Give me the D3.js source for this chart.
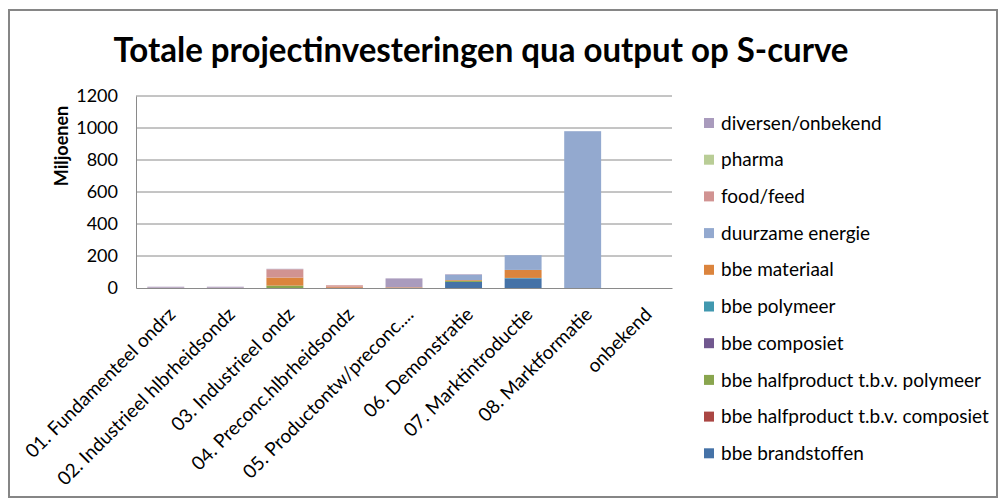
<!DOCTYPE html>
<html>
<head>
<meta charset="utf-8">
<script src="https://cdn.jsdelivr.net/npm/d3@7"></script>
<style>
  body { margin: 0; background: #fff; }
  text { font-family: Lato, "Open Sans", sans-serif; fill: #000; }
</style>
</head>
<body>
<div id="chart"></div>
<script>
var width = 998;
var height = 498;

var categories = [
  "01. Fundamenteel ondrz",
  "02. Industrieel hlbrheidsondz",
  "03. Industrieel ondz",
  "04. Preconc.hlbrheidsondz",
  "05. Productontw/preconc....",
  "06. Demonstratie",
  "07. Marktintroductie",
  "08. Marktformatie",
  "onbekend"
];

// stacking order, bottom to top
var seriesNames = [
  "bbe brandstoffen",
  "bbe halfproduct t.b.v. composiet",
  "bbe halfproduct t.b.v. polymeer",
  "bbe composiet",
  "bbe polymeer",
  "bbe materiaal",
  "duurzame energie",
  "food/feed",
  "pharma",
  "diversen/onbekend"
];

var brandstoffen         = [0, 0, 0, 0, 0, 38, 60, 0, 0];
var halfproductComposiet = [0, 0, 0, 3, 0, 0, 0, 0, 0];
var halfproductPolymeer  = [0, 0, 15, 0, 0, 6, 0, 0, 0];
var composiet            = [0, 0, 0, 0, 0, 0, 0, 0, 0];
var polymeer             = [0, 0, 0, 0, 0, 0, 3, 0, 0];
var materiaal            = [0, 0, 50, 5, 4, 5, 50, 0, 0];
var duurzameEnergie      = [0, 0, 0, 0, 0, 33, 92, 980, 0];
var foodFeed             = [2, 2, 52, 9, 0, 0, 0, 0, 0];
var pharma               = [0, 0, 0, 0, 0, 0, 0, 0, 0];
var diversen             = [6, 6, 3, 0, 56, 4, 0, 0, 0];

var yTicks = [0, 200, 400, 600, 800, 1000, 1200];

var colors = ["#4572a7", "#aa4643", "#89a54e", "#71588f", "#4198af",
              "#db843d", "#93a9cf", "#d19392", "#b9cd96", "#a99bbd"];

var values = [brandstoffen, halfproductComposiet, halfproductPolymeer, composiet,
              polymeer, materiaal, duurzameEnergie, foodFeed, pharma, diversen];

// table for d3.stack
var table = categories.map(function(c, i) {
  var row = { cat: c };
  seriesNames.forEach(function(s, j) { row[s] = values[j][i]; });
  return row;
});

var svg = d3.select("#chart")
  .append("svg")
  .attr("width", width)
  .attr("height", height);

// outer frame
svg.append("rect")
  .attr("x", 9).attr("y", 10)
  .attr("width", 988).attr("height", 487)
  .attr("fill", "#fff")
  .attr("stroke", "#868686")
  .attr("stroke-width", 2);

var plot = { left: 136, right: 672, top: 96, bottom: 288 };

var x = d3.scaleBand()
  .domain(categories)
  .range([plot.left, plot.right])
  .paddingInner(0.38)
  .paddingOuter(0.19);

var y = d3.scaleLinear()
  .domain([0, 1200])
  .range([plot.bottom, plot.top]);

// gridlines
svg.append("g")
  .selectAll("line")
  .data(yTicks.slice(1))
  .enter()
  .append("line")
  .attr("x1", plot.left).attr("x2", plot.right)
  .attr("y1", function(d) { return y(d); })
  .attr("y2", function(d) { return y(d); })
  .attr("stroke", "#8a8a8a")
  .attr("stroke-width", 1);

// y axis
var yAxis = svg.append("g")
  .attr("transform", "translate(" + plot.left + ",0)")
  .call(d3.axisLeft(y).tickValues(yTicks).tickFormat(d3.format("d")).tickSize(0).tickPadding(18));
yAxis.select(".domain").attr("stroke", "#8a8a8a");
yAxis.selectAll("text")
  .style("font-family", "Lato, sans-serif")
  .style("font-size", "18px")
  .attr("fill", "#000");

var stack = d3.stack().keys(seriesNames);
var series = stack(table);

var groups = svg.selectAll("g.series")
  .data(series)
  .enter()
  .append("g")
  .attr("class", "series")
  .style("fill", function(d, i) { return colors[i]; });

groups.selectAll("rect")
  .data(function(d) { return d; })
  .enter()
  .append("rect")
  .attr("x", function(d) { return x(d.data.cat); })
  .attr("y", function(d) { return y(d[1]); })
  .attr("height", function(d) { return y(d[0]) - y(d[1]); })
  .attr("width", x.bandwidth());

// x axis
var xAxis = svg.append("g")
  .attr("transform", "translate(0," + plot.bottom + ")")
  .call(d3.axisBottom(x).tickSize(0).tickFormat(""));
xAxis.select(".domain").attr("stroke", "#8a8a8a");

svg.append("g")
  .selectAll("text")
  .data(categories)
  .enter()
  .append("text")
  .attr("transform", function(d) {
    return "translate(" + (x(d) + x.bandwidth() / 2 + 6) + "," + (plot.bottom + 23) + ") rotate(-45)";
  })
  .attr("text-anchor", "end")
  .attr("dy", "0.35em")
  .style("font-size", "19px")
  .text(function(d) { return d; });

// y axis title
svg.append("text")
  .attr("transform", "translate(68,146) rotate(-90)")
  .attr("text-anchor", "middle")
  .style("font-size", "18px")
  .style("font-weight", "bold")
  .text("Miljoenen");

// title
svg.append("text")
  .attr("x", 481).attr("y", 62)
  .attr("text-anchor", "middle")
  .attr("textLength", 735)
  .attr("lengthAdjust", "spacingAndGlyphs")
  .style("font-size", "35px")
  .style("font-weight", "bold")
  .text("Totale projectinvesteringen qua output op S-curve");

// legend, top to bottom is reverse of stack order
var legendItems = seriesNames.map(function(s, i) { return { name: s, color: colors[i] }; }).reverse();

var legend = svg.append("g")
  .selectAll("g")
  .data(legendItems)
  .enter()
  .append("g")
  .attr("transform", function(d, i) { return "translate(704," + (123 + i * 36.7) + ")"; });

legend.append("rect")
  .attr("x", 0).attr("y", -5)
  .attr("width", 10).attr("height", 10)
  .style("fill", function(d) { return d.color; });

legend.append("text")
  .attr("x", 17).attr("y", 0)
  .attr("dy", "0.35em")
  .style("font-size", "19px")
  .text(function(d) { return d.name; });
</script>
</body>
</html>
